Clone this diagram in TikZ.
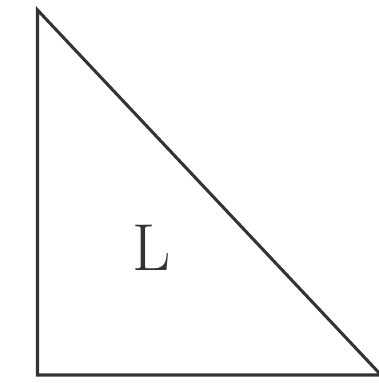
\documentclass[tikz,border=0pt]{standalone}
\usepackage{tikz}
\usetikzlibrary{calc,positioning}
\definecolor{trazo}{HTML}{333333}

\begin{document}
\begin{tikzpicture}[x=0.0264583cm,y=-0.0264583cm,line join=miter]
        \useasboundingbox (0,0) rectangle (379,383);
        \begin{scope}
          \coordinate (A) at (37.5,10);
          \coordinate (B) at (37.5,375);
          \coordinate (C) at (381,375);
          \draw[trazo,line width=2.3pt] (A) -- (B) -- (C) -- cycle;
          \node[trazo,font=\fontsize{50}{60}\selectfont,inner sep=0pt] (lado) at (152,248) {L};
        \end{scope}
      \end{tikzpicture}
\end{document}
